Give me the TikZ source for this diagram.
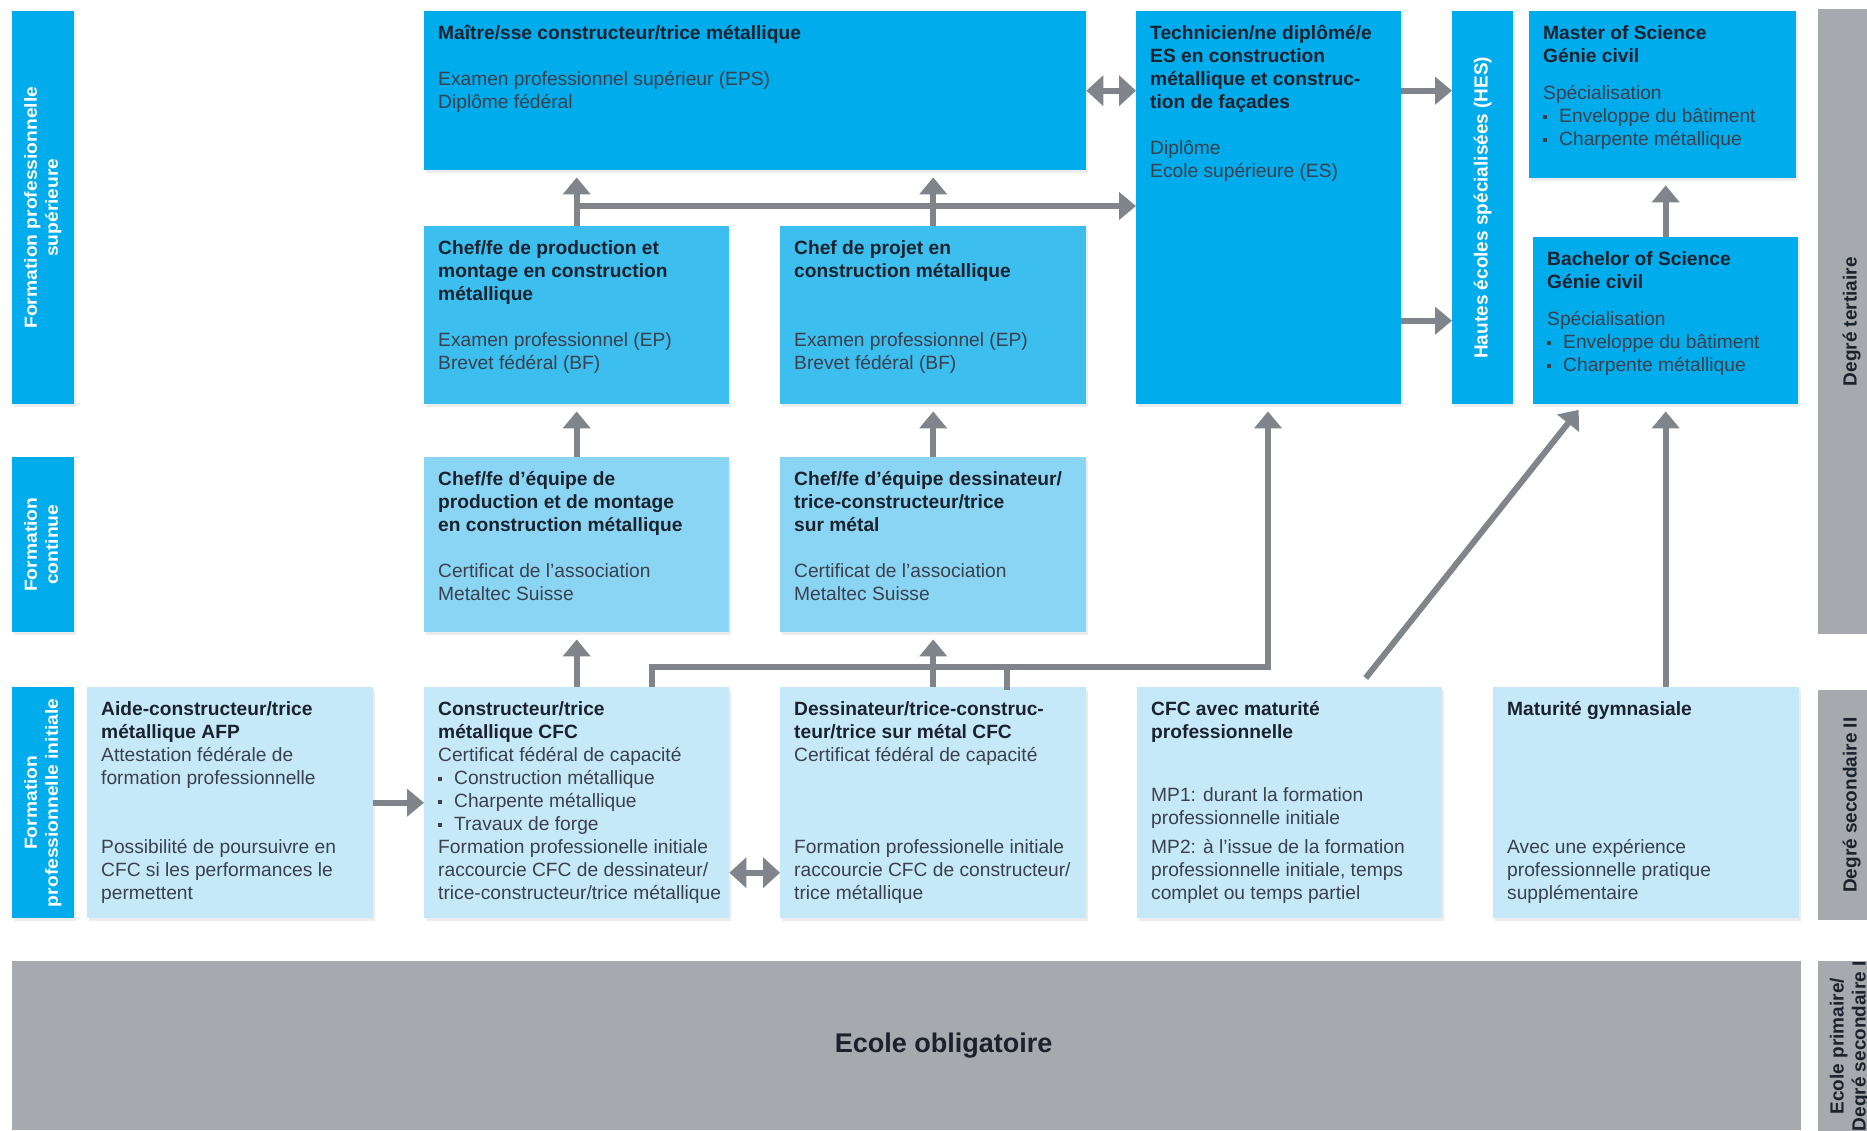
\documentclass[tikz,border=0pt]{standalone}
\usepackage{fontspec}
\setmainfont{Liberation Sans}
\newfontfamily\extfont[FakeStretch=1.1]{Liberation Sans}
\usepackage{graphicx}
\usetikzlibrary{arrows.meta,shadows}

\definecolor{tertblue}{RGB}{0,172,236}
\definecolor{midblue}{RGB}{60,190,239}
\definecolor{lightblue}{RGB}{139,213,244}
\definecolor{paleblue}{RGB}{198,233,249}
\definecolor{bargray}{RGB}{166,169,173}
\definecolor{arrowgray}{RGB}{128,133,139}
\definecolor{titlecol}{RGB}{26,34,46}
\definecolor{bodycol}{RGB}{58,64,76}

% text of a box: width, height of the box (px), content
\newcommand{\boxtext}[3]{\parbox[c][\dimexpr#2pt-24pt\relax][t]{#1pt}{\leftskip=14pt\strut#3\strut}}
\newcommand{\ttl}[1]{{\color{titlecol}\bfseries #1}}
\newcommand{\itm}{\makebox[16pt][l]{\raisebox{3pt}{\rule{4pt}{4pt}}}}

\begin{document}
\begin{tikzpicture}[x=1pt, y=-1pt,
    cellbox/.style={rectangle, anchor=north west, inner xsep=0pt, inner ysep=12pt, text=bodycol,
      font=\fontsize{19.2}{23}\selectfont,
      drop shadow={shadow xshift=2pt, shadow yshift=-3pt, opacity=0.15}},
    sidebar/.style={rectangle, anchor=north west, fill=tertblue, text=white, inner sep=0pt,
      minimum width=62pt, font=\extfont\bfseries\fontsize{17.5}{21}\selectfont,
      drop shadow={shadow xshift=2pt, shadow yshift=-3pt, opacity=0.15}},
    graybar/.style={rectangle, anchor=north west, fill=bargray, text=titlecol, inner sep=0pt,
      font=\bfseries\fontsize{19}{22}\selectfont},
    conn/.style={draw=arrowgray, line width=6pt},
    arr/.style={conn, -{Triangle[width=27pt,length=17pt]}},
    arrup/.style={shorten >=7pt},
    dbl/.style={conn, {Triangle[width=30pt,length=17pt]}-{Triangle[width=30pt,length=17pt]}}]
    \useasboundingbox[fill=white] (0,0) rectangle (1867,1130);

    % Left labels
    \node[sidebar, minimum height=393pt] (supA) at (12,11)
      {\rotatebox{90}{\begin{tabular}{@{}c@{}}Formation professionnelle\\supérieure\end{tabular}}};
    \node[sidebar, minimum height=175pt] (contB) at (12,457)
      {\rotatebox{90}{\begin{tabular}{@{}c@{}}Formation\\continue\end{tabular}}};
    \node[sidebar, minimum height=231pt] (initC) at (12,687)
      {\rotatebox{90}{\begin{tabular}{@{}c@{}}Formation\\professionnelle initiale\end{tabular}}};

    % Right labels and compulsory school
    \node[graybar, minimum width=49pt, minimum height=625pt] (tert) at (1818,9)
      {\hspace*{18pt}\rotatebox{90}{Degré tertiaire}};
    \node[graybar, minimum width=49pt, minimum height=230pt] (sec2) at (1818,690)
      {\hspace*{18pt}\rotatebox{90}{Degré secondaire II}};
    \node[graybar, minimum width=49pt, minimum height=169pt] (sec1) at (1818,961)
      {\hspace*{10pt}\rotatebox{90}{\begin{tabular}{@{}c@{}}Ecole primaire/\\Degré secondaire I\end{tabular}}};
    \node[graybar, minimum width=1789pt, minimum height=169pt, font=\bfseries\fontsize{27}{32}\selectfont]
      (ecole) at (12,961) {\hspace*{74pt}Ecole obligatoire};

    % Tertiary level
    \node[cellbox, fill=tertblue] (maitre) at (424,11) {\boxtext{662}{159}{%
      \ttl{Maître/sse constructeur/trice métallique}\\[23pt]
      Examen professionnel supérieur (EPS)\\Diplôme fédéral}};
    \node[cellbox, fill=tertblue] (tech) at (1136,11) {\boxtext{265}{393}{%
      \ttl{Technicien/ne diplômé/e\\ES en construction\\métallique et construc-\\tion de façades}\\[23pt]
      Diplôme\\Ecole supérieure (ES)}};
    \node[cellbox, fill=tertblue, inner sep=0pt, minimum width=61pt, minimum height=393pt, text=white,
      font=\bfseries\fontsize{19}{22}\selectfont] (hes) at (1452,11)
      {\rotatebox{90}{Hautes écoles spécialisées (HES)}};
    \node[cellbox, fill=tertblue] (master) at (1529,11) {\boxtext{267}{167}{%
      \ttl{Master of Science\\Génie civil}\\[14pt]
      Spécialisation\\\itm Enveloppe du bâtiment\\\itm Charpente métallique}};
    \node[cellbox, fill=tertblue] (bachelor) at (1533,237) {\boxtext{265}{167}{%
      \ttl{Bachelor of Science\\Génie civil}\\[14pt]
      Spécialisation\\\itm Enveloppe du bâtiment\\\itm Charpente métallique}};
    \node[cellbox, fill=midblue] (chefprod) at (424,226) {\boxtext{305}{178}{%
      \ttl{Chef/fe de production et\\montage en construction\\métallique}\\[23pt]
      Examen professionnel (EP)\\Brevet fédéral (BF)}};
    \node[cellbox, fill=midblue] (chefprojet) at (780,226) {\boxtext{306}{178}{%
      \ttl{Chef de projet en\\construction métallique}\\[46pt]
      Examen professionnel (EP)\\Brevet fédéral (BF)}};

    % Continuing education
    \node[cellbox, fill=lightblue] (equipeprod) at (424,457) {\boxtext{305}{175}{%
      \ttl{Chef/fe d’équipe de\\production et de montage\\en construction métallique}\\[23pt]
      Certificat de l’association\\Metaltec Suisse}};
    \node[cellbox, fill=lightblue] (equipedess) at (780,457) {\boxtext{306}{175}{%
      \ttl{Chef/fe d’équipe dessinateur/\\trice-constructeur/trice\\sur métal}\\[23pt]
      Certificat de l’association\\Metaltec Suisse}};

    % Initial vocational training
    \node[cellbox, fill=paleblue] (aide) at (87,687) {\boxtext{286}{231}{%
      \ttl{Aide-constructeur/trice\\métallique AFP}\\
      Attestation fédérale de\\formation professionnelle\par\vfill
      Possibilité de poursuivre en\\CFC si les performances le\\permettent}};
    \node[cellbox, fill=paleblue] (constr) at (424,687) {\boxtext{305}{231}{%
      \ttl{Constructeur/trice\\métallique CFC}\\
      Certificat fédéral de capacité\\
      \itm Construction métallique\\\itm Charpente métallique\\\itm Travaux de forge\\
      Formation professionelle initiale\\raccourcie CFC de dessinateur/\\trice-constructeur/trice métallique}};
    \node[cellbox, fill=paleblue] (dess) at (780,687) {\boxtext{306}{231}{%
      \ttl{Dessinateur/trice-construc-\\teur/trice sur métal CFC}\\
      Certificat fédéral de capacité\par\vfill
      Formation professionelle initiale\\raccourcie CFC de constructeur/\\trice métallique}};
    \node[cellbox, fill=paleblue] (cfcmp) at (1137,687) {\boxtext{305}{231}{%
      \ttl{CFC avec maturité\\professionnelle}\par\vfill
      MP1: durant la formation\\professionnelle initiale\\[6pt]
      MP2: à l’issue de la formation\\professionnelle initiale, temps\\complet ou temps partiel}};
    \node[cellbox, fill=paleblue] (matgym) at (1493,687) {\boxtext{306}{231}{%
      \ttl{Maturité gymnasiale}\par\vfill
      Avec une expérience\\professionnelle pratique\\supplémentaire}};

    % Arrows
    \draw[arr, arrup] (chefprod.north) -- (chefprod.north |- maitre.south);
    \draw[arr, arrup] (chefprojet.north) -- (chefprojet.north |- maitre.south);
    \coordinate (hj) at (576.5,206);
    \draw[arr] (hj) -- (hj -| tech.west);
    \draw[dbl] (maitre.east) -- (maitre.east -| tech.west);
    \draw[arr] (tech.east |- maitre.east) -- (hes.west |- maitre.east);
    \draw[arr] (tech.east |- bachelor.west) -- (hes.west |- bachelor.west);
    \draw[arr, arrup] (bachelor.north) -- (bachelor.north |- master.south);
    \draw[arr, arrup] (equipeprod.north) -- (chefprod.south);
    \draw[arr, arrup] (equipedess.north) -- (chefprojet.south);
    \draw[arr, arrup] (constr.north) -- (equipeprod.south);
    \draw[arr, arrup] (dess.north) -- (equipedess.south);
    \coordinate (cs) at ([xshift=-77pt]constr.north east);
    \coordinate (ds) at ([xshift=-79pt]dess.north east);
    \coordinate (jt) at (1268,667);
    \draw[arr, arrup] (cs) |- (jt) -- (jt |- tech.south);
    \draw[conn, line cap=rect] (ds) -- (ds |- jt);
    \draw[arr] (aide.east) -- (constr.west);
    \draw[dbl] ([yshift=-70pt]constr.east) -- ([yshift=-70pt]dess.west);
    \draw[arr, arrup] ([xshift=76pt,yshift=9pt]cfcmp.north) -- ([xshift=50pt]bachelor.south west);
    \draw[arr, arrup] (bachelor.south |- matgym.north) -- (bachelor.south);
\end{tikzpicture}
\end{document}
